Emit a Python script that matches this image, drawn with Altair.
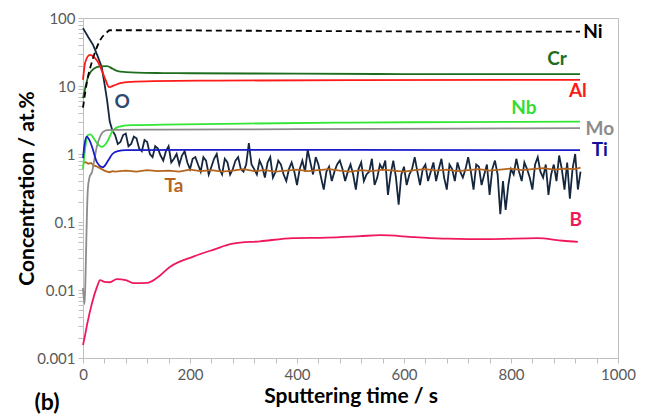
import altair as alt
import pandas as pd

# ---- data (time in s, concentration in at.%) ----
ni_t = [0, 7, 19, 32, 45, 50, 100, 300, 500, 700, 929]
ni_v = [4.8, 11, 26, 47, 62, 66, 66, 65, 64, 63, 63]

cr_t = [0, 5, 10, 20, 32, 45, 55, 65, 80, 100, 150, 200, 400, 600, 800, 929]
cr_v = [6.6, 10, 14, 18, 19.4, 19.6, 18.0, 16.5, 16.0, 15.7, 15.5, 15.4, 15.2, 15.0, 15.0, 15.0]

al_t = [0, 4, 13, 22, 28, 35, 41, 49, 58, 70, 90, 130, 250, 500, 929]
al_v = [12.3, 22, 28.6, 26, 22.5, 17, 13, 9.6, 10.2, 11, 11.5, 11.8, 12, 12.2, 12.3]

nb_t = [0, 4, 9, 14, 20, 26, 35, 45, 54, 66, 90, 150, 300, 500, 700, 929]
nb_v = [0.6, 1.2, 1.9, 1.95, 1.7, 1.45, 1.27, 1.5, 2.1, 2.5, 2.65, 2.7, 2.8, 2.9, 2.95, 3.0]

mo_t = [0, 3, 5, 7, 9, 12, 17, 22, 26, 32, 37, 45, 60, 150, 400, 700, 929]
mo_v = [0.0107, 0.0062, 0.02, 0.1, 0.3, 0.45, 0.55, 0.9, 1.3, 1.8, 2.1, 2.25, 2.27, 2.28, 2.32, 2.36, 2.4]

ti_t = [0, 3, 7, 12, 17, 26, 37, 47, 55, 65, 80, 200, 500, 929]
ti_v = [0.87, 1.4, 1.8, 1.6, 1.27, 0.76, 0.64, 0.8, 1.0, 1.1, 1.14, 1.15, 1.15, 1.14]

ta_t = [0, 5, 10, 15, 20, 25, 30, 35, 40, 45, 50, 55, 60,
        80, 100, 120, 140, 160, 180, 200, 220, 240, 260, 280, 300, 320, 340, 360, 380,
        400, 420, 440, 460, 480, 500, 520, 540, 560, 580, 600, 620, 640, 660, 680, 700,
        720, 740, 760, 780, 800, 820, 840, 860, 880, 900, 920, 930]
ta_v = [0.74, 0.76, 0.72, 0.74, 0.68, 0.66, 0.63, 0.60, 0.57, 0.55, 0.54, 0.56, 0.55,
        0.57, 0.55, 0.58, 0.56, 0.57, 0.55, 0.59, 0.56, 0.58, 0.55, 0.57, 0.60, 0.56, 0.58, 0.55, 0.57,
        0.59, 0.56, 0.58, 0.60, 0.57, 0.55, 0.58, 0.56, 0.59, 0.57, 0.55, 0.58, 0.60, 0.57, 0.59, 0.56,
        0.58, 0.60, 0.57, 0.59, 0.61, 0.58, 0.60, 0.62, 0.59, 0.61, 0.60, 0.63]

o_t = [0, 10, 19, 27, 35, 40, 45, 50, 55] + list(range(60, 931, 5))
o_v = [71, 52, 40, 28, 19, 11, 6.2, 3.0, 2.2,
       1.9, 1.4, 1.5, 1.9, 2.0, 1.3, 1.4, 1.8, 1.7, 1.2,
       1.1, 1.6, 1.5, 1.0, 0.9, 1.3, 1.2, 0.95, 0.8, 1.1,
       1.3, 0.75, 0.85, 1.0, 0.7, 0.95, 1.1, 0.75, 0.6, 0.85,
       0.9, 0.7, 0.55, 0.9, 0.8, 0.5, 0.65, 0.85, 1.0, 0.6,
       0.5, 0.85, 0.75, 0.5, 0.6, 0.8, 0.9, 0.6, 0.55, 0.7,
       1.45, 0.7, 0.6, 0.5, 0.8, 0.65, 0.45, 0.75, 0.9, 0.45,
       0.55, 0.8, 0.7, 0.5, 0.4, 0.6, 0.75, 0.55, 0.35, 0.6,
       0.8, 0.55, 1.15, 0.75, 0.5, 0.9, 0.7, 0.45, 0.3, 0.55,
       0.65, 0.4, 0.55, 0.7, 0.8, 0.6, 0.4, 0.55, 0.7, 0.5,
       0.3, 0.6, 0.75, 0.4, 0.5, 0.55, 0.85, 0.35, 0.45, 0.7,
       0.6, 0.8, 0.25, 0.5, 0.8, 0.45, 0.18, 0.5, 0.65, 0.35,
       0.5, 0.6, 0.9, 0.55, 0.35, 0.6, 0.7, 0.4, 0.55, 0.75,
       0.4, 0.6, 0.85, 0.45, 0.3, 0.7, 0.6, 0.4, 0.75, 0.55,
       0.45, 0.6, 0.9, 0.55, 0.3, 0.7, 0.65, 0.35, 0.5, 0.7,
       0.25, 0.6, 0.8, 0.5, 0.13, 0.4, 0.15, 0.35, 0.6, 0.5,
       0.85, 0.55, 0.4, 0.75, 0.6, 0.45, 0.3, 0.7, 0.9, 0.55,
       0.45, 0.7, 0.25, 0.5, 0.7, 0.4, 0.95, 0.6, 0.3, 0.75,
       0.22, 0.6, 1.0, 0.3, 0.55]

b_t = [0, 3, 8, 17, 26, 32, 40, 50, 63, 80, 94, 120, 138, 163, 206, 243, 280, 331,
       393, 456, 518, 555, 620, 680, 761, 849, 897, 925]
b_v = [0.00155, 0.002, 0.0032, 0.0065, 0.011, 0.014, 0.0132, 0.013, 0.0145, 0.014, 0.0126,
       0.0127, 0.015, 0.022, 0.031, 0.039, 0.048, 0.052, 0.058, 0.059, 0.062, 0.064, 0.06,
       0.057, 0.056, 0.058, 0.053, 0.051]

names = ["Ni", "Cr", "Al", "Nb", "Mo", "Ti", "Ta", "O", "B"]
colors = ["#000000", "#1E6E1E", "#FF1A1A", "#33E633", "#8C8C8C", "#1A1ACC", "#B5651D", "#15263F", "#F0185C"]

# label anchor positions (data coordinates)
lab_t = [953, 886, 925, 824, 966, 966, 170, 73, 921]
lab_v = [62, 25, 8.5, 4.8, 2.34, 1.14, 0.34, 5.8, 0.107]
lab_color = ["#000000", "#1E6E1E", "#FF1A1A", "#33DD33", "#8C8C8C", "#10109A", "#B5651D", "#2F4A6E", "#F0185C"]

smooth = {"Cr": (cr_t, cr_v), "Al": (al_t, al_v), "Nb": (nb_t, nb_v),
          "Mo": (mo_t, mo_v), "Ti": (ti_t, ti_v), "B": (b_t, b_v)}
rows = []
for k, (ts, vs) in smooth.items():
    rows += [{"s": k, "t": t, "v": v} for t, v in zip(ts, vs)]
df_smooth = pd.DataFrame(rows)
df_ni = pd.DataFrame({"s": "Ni", "t": ni_t, "v": ni_v})
df_o = pd.DataFrame({"s": "O", "t": o_t, "v": o_v})
df_ta = pd.DataFrame({"s": "Ta", "t": ta_t, "v": ta_v})
df_lab = pd.DataFrame({"s": names, "t": lab_t, "v": lab_v})

FONT = "Lato"
color_scale = alt.Scale(domain=names, range=colors)
lab_scale = alt.Scale(domain=names, range=lab_color)

minor = []
for e in [0.001, 0.01, 0.1, 1, 10]:
    minor += [round(e * m, 6) for m in range(1, 10)]
minor.append(100)

xenc = alt.X("t:Q", scale=alt.Scale(domain=[0, 1000], nice=False),
             axis=alt.Axis(values=list(range(0, 1001, 40)), format="d",
                           labelExpr="datum.value % 200 == 0 ? datum.label : ''",
                           title="Sputtering time / s", grid=False, labelFlush=False,
                           tickSize=5, labelPadding=4, titlePadding=3))
yenc = alt.Y("v:Q", scale=alt.Scale(type="log", domain=[0.001, 100], nice=False),
             axis=alt.Axis(values=minor, format="~g", labelFlush=False,
                           labelExpr="abs(log(datum.value)/log(10) - round(log(datum.value)/log(10))) < 0.001 ? datum.label : ''",
                           title="Concentration / at.%", grid=False,
                           tickSize=5, labelPadding=3, titlePadding=-1))

base_color = alt.Color("s:N", scale=color_scale, legend=None)

lines_smooth = alt.Chart(df_smooth).mark_line(strokeWidth=1.8, interpolate="monotone").encode(
    x=xenc, y=yenc, color=base_color, detail="s:N")
line_o = alt.Chart(df_o).mark_line(strokeWidth=1.8).encode(x=xenc, y=yenc, color=base_color)
line_ta = alt.Chart(df_ta).mark_line(strokeWidth=1.8).encode(x=xenc, y=yenc, color=base_color)
line_ni = alt.Chart(df_ni).mark_line(strokeWidth=1.8, strokeDash=[6, 4], interpolate="monotone").encode(
    x=xenc, y=yenc, color=base_color)

labels = alt.Chart(df_lab).mark_text(font=FONT, fontSize=19, fontWeight="bold").encode(
    x=xenc, y=yenc, text="s:N", color=alt.Color("s:N", scale=lab_scale, legend=None))

panel = alt.Chart(pd.DataFrame({"lab": ["(b)"]})).mark_text(
    font=FONT, fontSize=23, fontWeight="bold", color="#000000").encode(
    x=alt.value(-36), y=alt.value(385), text="lab:N")

chart = alt.layer(line_o, line_ta, lines_smooth, line_ni, labels, panel).resolve_scale(
    color="independent"
).properties(
    width=535, height=340,
    background="white",
    autosize=alt.AutoSizeParams(type="none"),
    padding={"left": 83, "top": 18, "right": 29, "bottom": 62},
).configure_view(
    stroke="#BFBFBF", strokeWidth=1
).configure_axis(
    labelFont=FONT, labelFontSize=15, labelColor="#595959",
    titleFont=FONT, titleFontSize=21, titleFontWeight="bold", titleColor="#000000",
    domainColor="#BFBFBF", tickColor="#BFBFBF", domainWidth=1
)

chart.save("out.html", embed_options={"renderer": "svg", "actions": False})
